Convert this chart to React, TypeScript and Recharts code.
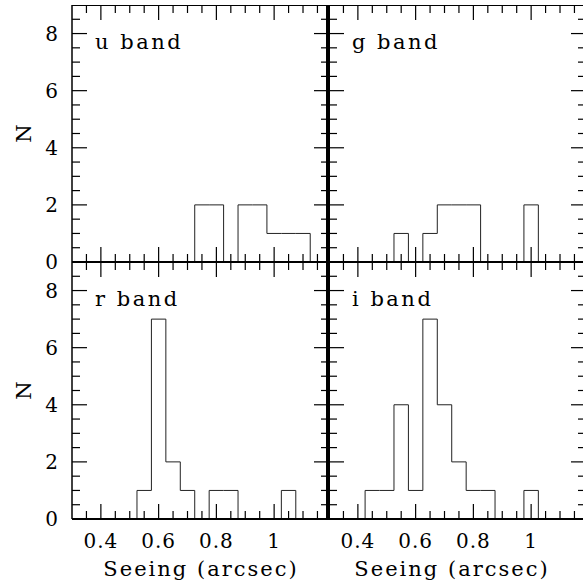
import React from 'react';
import { ComposedChart, Line, XAxis, YAxis } from 'recharts';

// ---- data ----
const binCenters = [0.45, 0.5, 0.55, 0.6, 0.65, 0.7, 0.75, 0.8, 0.85, 0.9, 0.95, 1.0, 1.05, 1.1];
const binWidth = 0.05;
const uCounts = [0, 0, 0, 0, 0, 0, 2, 2, 0, 2, 2, 1, 1, 1];
const gCounts = [0, 0, 1, 0, 1, 2, 2, 2, 0, 0, 0, 2, 0, 0];
const rCounts = [0, 0, 1, 7, 2, 1, 0, 1, 1, 0, 0, 0, 1, 0];
const iCounts = [1, 1, 4, 1, 7, 4, 2, 1, 1, 0, 0, 1, 0, 0];
const bandNames = ['u band', 'g band', 'r band', 'i band'];

const xTicks = [0.35, 0.4, 0.45, 0.5, 0.55, 0.6, 0.65, 0.7, 0.75, 0.8, 0.85, 0.9, 0.95, 1.0, 1.05, 1.1, 1.15];
const xMajorTicks = [0.4, 0.6, 0.8, 1.0];
const xTickLabels = ['0.4', '0.6', '0.8', '1'];
const yTicks = [0, 0.5, 1, 1.5, 2, 2.5, 3, 3.5, 4, 4.5, 5, 5.5, 6, 6.5, 7, 7.5, 8, 8.5];
const yMajorTicks = [0, 2, 4, 6, 8];
const yTickLabels = ['0', '2', '4', '6', '8'];
const xDomain = [0.3, 1.19];
const yDomain = [0, 9];
const xTitle = 'Seeing (arcsec)';
const yTitle = 'N';

// ---- layout ----
const FONT = '"DejaVu Serif", serif';
const PW = 257;
const PH = 257;
const COL_X = [72, 329];
const ROW_Y = [5, 262];
const CW = 600;
const CH = 584;
const TICK_MAJOR = 15;
const TICK_MINOR = 8;
const AXB = 1;

function buildSteps(counts: number[]) {
  const first = counts.findIndex((c) => c > 0);
  let last = -1;
  counts.forEach((c, i) => { if (c > 0) last = i; });
  const pts: { x: number; y: number }[] = [];
  pts.push({ x: binCenters[first] - binWidth / 2, y: 0 });
  for (let i = first; i <= last; i++) {
    pts.push({ x: binCenters[i] - binWidth / 2, y: counts[i] });
  }
  pts.push({ x: binCenters[last] + binWidth / 2, y: 0 });
  return pts;
}

const near = (a: number, b: number) => Math.abs(a - b) < 1e-6;
const xMajorIndex = (v: number) => xMajorTicks.findIndex((m) => near(m, v));
const yMajorIndex = (v: number) => yMajorTicks.findIndex((m) => near(m, v));

function Panel({ counts, col, row }: { counts: number[]; col: number; row: number; name: string }) {
  const data = buildSteps(counts);
  const margin = {
    left: COL_X[col] - AXB,
    top: ROW_Y[row],
    right: CW - COL_X[col] - PW,
    bottom: CH - ROW_Y[row] - PH - AXB,
  };
  const showXLabels = row === 1;
  const showYLabels = col === 0;

  const xTick = (p: any) => {
    const idx = xMajorIndex(p.payload.value);
    const len = idx >= 0 ? TICK_MAJOR : TICK_MINOR;
    const x = Number(p.x);
    const y = Number(p.y);
    return (
      <g>
        <path d={`M${x},${y}L${x},${y - len}`} stroke="#000" strokeWidth={1.2} fill="none" />
        <path d={`M${x},${y - PH}L${x},${y - PH + len}`} stroke="#000" strokeWidth={1.2} fill="none" />
        {showXLabels && idx >= 0 ? (
          <text x={x} y={y + 29} textAnchor="middle" fontFamily={FONT} fontSize={20} letterSpacing={1} fill="#000">
            {xTickLabels[idx]}
          </text>
        ) : null}
      </g>
    );
  };
  const yTick = (p: any) => {
    const idx = yMajorIndex(p.payload.value);
    const len = idx >= 0 ? TICK_MAJOR : TICK_MINOR;
    const x = Number(p.x);
    const y = Number(p.y);
    return (
      <g>
        <path d={`M${x},${y}L${x + len},${y}`} stroke="#000" strokeWidth={1.2} fill="none" />
        <path d={`M${x + PW},${y}L${x + PW - len},${y}`} stroke="#000" strokeWidth={1.2} fill="none" />
        {showYLabels && idx >= 0 ? (
          <text x={x - 14} y={y} dy="0.36em" textAnchor="end" fontFamily={FONT} fontSize={20} fill="#000">
            {yTickLabels[idx]}
          </text>
        ) : null}
      </g>
    );
  };

  return (
    <div style={{ position: 'absolute', left: 0, top: 0, width: CW, height: CH }}>
      <ComposedChart width={CW} height={CH} data={data} margin={margin}>
        <XAxis
          dataKey="x"
          type="number"
          domain={xDomain}
          allowDataOverflow
          ticks={xTicks}
          interval={0}
          height={AXB}
          tickSize={0}
          tickMargin={0}
          tickLine={false}
          axisLine={{ stroke: '#000', strokeWidth: 2 }}
          tick={xTick}
        />
        <YAxis
          type="number"
          domain={yDomain}
          allowDataOverflow
          ticks={yTicks}
          interval={0}
          width={AXB}
          tickSize={0}
          tickMargin={0}
          tickLine={false}
          axisLine={{ stroke: '#000', strokeWidth: col === 0 ? 1.5 : 2 }}
          tick={yTick}
        />
        <Line
          type="stepAfter"
          dataKey="y"
          stroke="#222"
          strokeWidth={1}
          dot={false}
          activeDot={false}
          isAnimationActive={false}
        />
      </ComposedChart>
    </div>
  );
}

export default function App() {
  const panels = [
    { counts: uCounts, col: 0, row: 0, name: bandNames[0] },
    { counts: gCounts, col: 1, row: 0, name: bandNames[1] },
    { counts: rCounts, col: 0, row: 1, name: bandNames[2] },
    { counts: iCounts, col: 1, row: 1, name: bandNames[3] },
  ];
  return (
    <div style={{ position: 'absolute', left: 0, top: 0, width: 583, height: 584, overflow: 'hidden', background: '#fff' }}>
      {panels.map((p) => (
        <Panel key={p.name} {...p} />
      ))}
      {panels.map((p) => (
        <div
          key={'frame' + p.name}
          style={{
            position: 'absolute',
            left: COL_X[p.col],
            top: ROW_Y[p.row],
            width: PW - 1,
            height: PH,
            borderTop: '1px solid #000',
            borderRight: '2px solid #000',
            boxSizing: 'border-box',
            pointerEvents: 'none',
          }}
        />
      ))}
      <svg width={583} height={584} style={{ position: 'absolute', left: 0, top: 0, pointerEvents: 'none' }}>
        {panels.map((p) => (
          <text
            key={p.name}
            x={COL_X[p.col] + 23}
            y={ROW_Y[p.row] + 44}
            fontFamily={FONT}
            fontSize={21}
            letterSpacing={2.5}
            fill="#000"
          >
            {p.name}
          </text>
        ))}
        {ROW_Y.map((y0, i) => (
          <text
            key={'n' + i}
            x={0}
            y={0}
            transform={`translate(31, ${y0 + PH / 2}) rotate(-90)`}
            textAnchor="middle"
            fontFamily={FONT}
            fontSize={21}
            fill="#000"
          >
            {yTitle}
          </text>
        ))}
        <text x={201} y={576} textAnchor="middle" fontFamily={FONT} fontSize={21} letterSpacing={2} fill="#000">
          {xTitle}
        </text>
        <text x={452} y={576} textAnchor="middle" fontFamily={FONT} fontSize={21} letterSpacing={2} fill="#000">
          {xTitle}
        </text>
      </svg>
    </div>
  );
}
